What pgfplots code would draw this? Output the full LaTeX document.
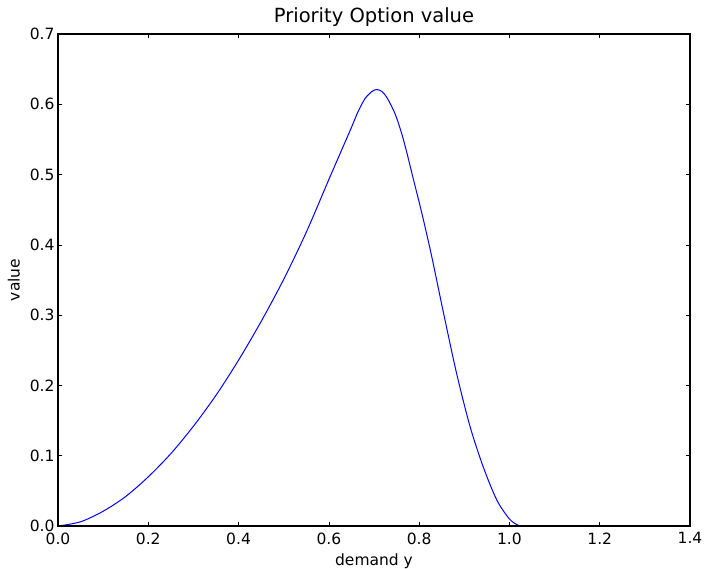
\documentclass[border=0pt]{standalone}
\usepackage{fontspec}
\setmainfont{DejaVu Sans}
\usepackage{pgfplots}
\pgfplotsset{compat=1.18}

\begin{document}
\begin{tikzpicture}
\begin{axis}[
    name=ax,
    scale only axis,
    axis on top,
    width=632pt, height=492pt,
    xmin=0, xmax=1.4, ymin=0, ymax=0.7,
    xtick={0,0.2,...,1.4}, ytick={0,0.1,...,0.7},
    /pgf/number format/assume math mode=true,
    /pgf/number format/fixed, /pgf/number format/fixed zerofill,
    /pgf/number format/precision=1,
    tick label style={font=\fontsize{15.5}{18}\selectfont},
    xticklabel style={yshift=-3pt},
    major tick length=4pt,
    tick style={black, line width=0.6pt},
    axis line style={line width=1.1pt},
    title={Priority Option value},
    title style={font=\fontsize{19.5}{23}\selectfont, yshift=-2pt},
    xlabel={demand y},
    ylabel={value},
    label style={font=\fontsize{15.5}{18}\selectfont},
    xlabel style={yshift=-3pt},
    ylabel style={yshift=3pt},
]
\addplot[blue, line width=1pt, smooth] coordinates {
    (0.00,0.000) (0.05,0.006) (0.10,0.021) (0.15,0.042) (0.20,0.070)
    (0.25,0.103) (0.30,0.142) (0.35,0.186) (0.40,0.236) (0.45,0.291)
    (0.50,0.351) (0.55,0.418) (0.60,0.493) (0.625,0.530) (0.65,0.567)
    (0.665,0.590) (0.68,0.608) (0.695,0.618) (0.706,0.621) (0.718,0.618)
    (0.730,0.608) (0.747,0.586) (0.761,0.559) (0.772,0.533) (0.787,0.494)
    (0.806,0.445) (0.828,0.383) (0.854,0.303) (0.883,0.217) (0.913,0.141)
    (0.942,0.084) (0.972,0.037) (1.000,0.010) (1.020,0.001) (1.035,0.000)
    (1.10,0.000) (1.20,0.000) (1.30,0.000)
};
\end{axis}
\pgfresetboundingbox
\path[use as bounding box] ([shift={(-58pt,-43pt)}]ax.south west) rectangle ([shift={(18pt,34pt)}]ax.north east);
\end{tikzpicture}
\end{document}
